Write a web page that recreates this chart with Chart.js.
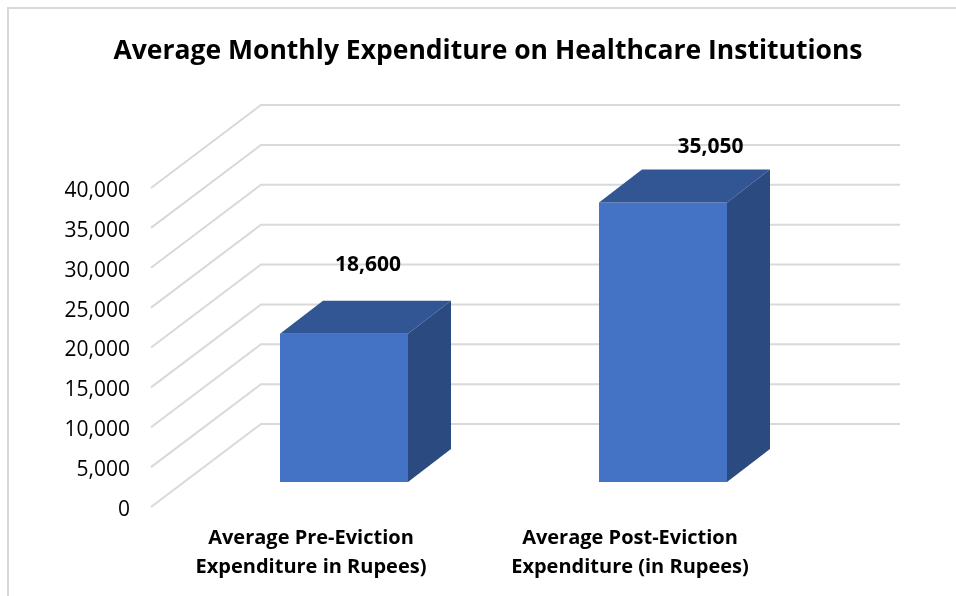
<!DOCTYPE html>
<html>
<head>
<meta charset="utf-8">
<style>
html,body{margin:0;padding:0;background:#fff;}
#wrap{position:relative;width:956px;height:596px;overflow:hidden;}
#frame{position:absolute;left:7px;top:7px;width:960px;height:600px;border:2px solid #D9D9D9;box-sizing:border-box;}
canvas{position:absolute;left:0;top:0;}
</style>
<script src="https://cdn.jsdelivr.net/npm/chart.js@4"></script>
</head>
<body>
<div id="wrap"><div id="frame"></div><canvas id="c" width="956" height="596"></canvas></div>
<script>
const chartTitle = 'Average Monthly Expenditure on Healthcare Institutions';
const categories = [['Average Pre-Eviction','Expenditure in Rupees)'],['Average Post-Eviction','Expenditure (in Rupees)']];
const values = [18600, 35050];
const valueLabels = ['18,600', '35,050'];
const labelShift = [[24, -69], [47.5, -55]];
const yMax = 40000, yStep = 5000;
const fontFamily = '"Open Sans", sans-serif';
const depthX = 43, depthY = 33;
const gridBackDy = 58, gridFrontDy = 25, gridLeft = 151, gridMid = 261, gridRight = 900;

const wall3d = {
  id: 'wall3d',
  afterLayout(chart) {
    chart.titleBlock.left = 0;
    chart.titleBlock.right = 976;
  },
  beforeDatasetsDraw(chart) {
    const {ctx, scales:{y}} = chart;
    ctx.save();
    ctx.strokeStyle = '#D9D9D9';
    ctx.lineWidth = 2;
    ctx.lineJoin = 'miter';
    y.ticks.forEach(t => {
      const py = y.getPixelForValue(t.value);
      ctx.beginPath();
      ctx.moveTo(gridLeft, py + gridFrontDy);
      ctx.lineTo(gridMid, py - gridBackDy);
      ctx.lineTo(gridRight, py - gridBackDy);
      ctx.stroke();
    });
    ctx.restore();
  },
  afterDatasetsDraw(chart) {
    const {ctx} = chart;
    const meta = chart.getDatasetMeta(0);
    ctx.save();
    meta.data.forEach((bar, i) => {
      const l = bar.x - bar.width/2, r = bar.x + bar.width/2, t = bar.y, b = bar.base;
      ctx.fillStyle = '#325694';
      ctx.beginPath();
      ctx.moveTo(l,t); ctx.lineTo(l+depthX,t-depthY); ctx.lineTo(r+depthX,t-depthY); ctx.lineTo(r,t);
      ctx.closePath(); ctx.fill();
      ctx.fillStyle = '#2A4A80';
      ctx.beginPath();
      ctx.moveTo(r,t); ctx.lineTo(r+depthX,t-depthY); ctx.lineTo(r+depthX,b-depthY); ctx.lineTo(r,b);
      ctx.closePath(); ctx.fill();
      ctx.fillStyle = '#000';
      ctx.font = 'bold 21px ' + fontFamily;
      ctx.textAlign = 'center';
      ctx.textBaseline = 'middle';
      ctx.fillText(valueLabels[i], bar.x + labelShift[i][0], t + labelShift[i][1]);
    });
    ctx.restore();
  }
};

new Chart(document.getElementById('c'), {
  type: 'bar',
  data: {
    labels: categories,
    datasets: [{ data: values, backgroundColor: '#4472C4', borderWidth: 0, barPercentage: 128/319, categoryPercentage: 1 }]
  },
  plugins: [wall3d],
  options: {
    responsive: false,
    animation: false,
    layout: { padding: { left: 40, right: 133.5, top: 0, bottom: 0 } },
    plugins: {
      legend: { display: false },
      tooltip: { enabled: false },
      title: {
        display: true,
        text: chartTitle,
        color: '#000',
        font: { family: fontFamily, size: 26.5, weight: 'bold' },
        padding: { top: 36, bottom: 95.2 }
      }
    },
    scales: {
      x: {
        grid: { display: false, drawTicks: false },
        border: { display: false },
        afterFit(s) { s.height = 114; },
        ticks: {
          color: '#000',
          labelOffset: -33,
          padding: 42,
          maxRotation: 0,
          font: { family: fontFamily, size: 20, weight: 'bold', lineHeight: 1.45 }
        }
      },
      y: {
        min: 0, max: yMax,
        grid: { display: false, drawTicks: false },
        border: { display: false },
        afterFit(s) { s.width = 144.5; },
        ticks: {
          stepSize: yStep,
          color: '#000',
          labelOffset: 28,
          padding: 54.5,
          font: { family: fontFamily, size: 21 },
          callback: v => v.toLocaleString('en-US')
        }
      }
    }
  }
});
</script>
</body>
</html>
